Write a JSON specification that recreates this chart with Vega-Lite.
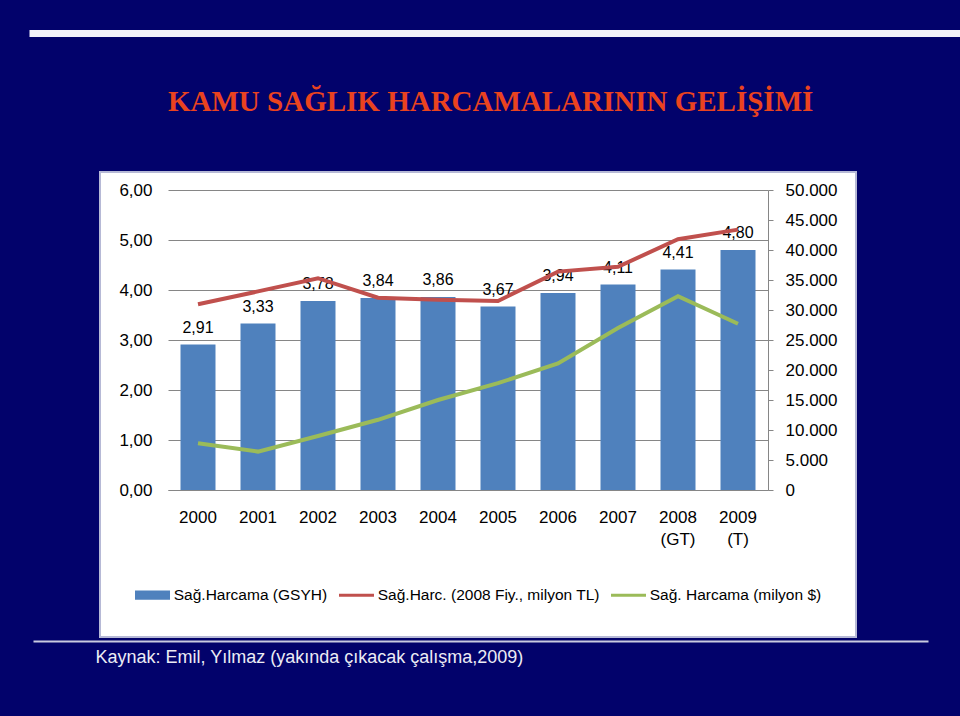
{
  "$schema": "https://vega.github.io/schema/vega-lite/v6.json",
  "autosize": {"type": "none"},
  "width": 756,
  "height": 465,
  "padding": {"left": 100, "top": 172, "right": 104, "bottom": 79},
  "background": "#02026B",
  "title": {
    "text": "KAMU SAĞLIK HARCAMALARININ GELİŞİMİ",
    "anchor": "start",
    "frame": "group",
    "font": "Liberation Serif",
    "fontSize": 29,
    "fontWeight": "bold",
    "color": "#EA431F",
    "baseline": "alphabetic",
    "dx": 68,
    "offset": -107
  },
  "data": {
    "values": [
      {"year": "2000", "gsyh": 2.91, "tl": 30950, "usd": 7800},
      {"year": "2001", "gsyh": 3.33, "tl": 33100, "usd": 6400},
      {"year": "2002", "gsyh": 3.78, "tl": 35300, "usd": 9000},
      {"year": "2003", "gsyh": 3.84, "tl": 32050, "usd": 11700},
      {"year": "2004", "gsyh": 3.86, "tl": 31700, "usd": 15000},
      {"year": "2005", "gsyh": 3.67, "tl": 31500, "usd": 17800},
      {"year": "2006", "gsyh": 3.94, "tl": 36400, "usd": 21100},
      {"year": "2007", "gsyh": 4.11, "tl": 37200, "usd": 27000},
      {"year": "2008 (GT)", "gsyh": 4.41, "tl": 41800, "usd": 32300},
      {"year": "2009 (T)", "gsyh": 4.80, "tl": 43400, "usd": 27700}
    ]
  },
  "layer": [
    {
      "layer": [
        {
          "mark": {"type": "bar", "color": "#4F81BD"},
          "encoding": {
            "x": {
              "field": "year", "type": "nominal", "sort": null,
              "scale": {"range": [68, 668], "paddingInner": 0.41667, "paddingOuter": 0.20833},
              "axis": {
                "orient": "bottom", "offset": -147, "domain": true, "domainColor": "#868686", "domainWidth": 1,
                "ticks": false, "labelPadding": 19, "labelFontSize": 17, "labelFont": "Liberation Sans",
                "labelColor": "#000000", "labelAngle": 0, "labelLineHeight": 22,
                "labelExpr": "split(datum.value, ' ')", "title": null, "grid": false
              }
            },
            "y": {
              "field": "gsyh", "type": "quantitative",
              "scale": {"domain": [0, 6], "range": [318, 18], "nice": false, "zero": false},
              "axis": {
                "orient": "left", "offset": -68, "domain": false, "ticks": false, "labelPadding": 16,
                "values": [0, 1, 2, 3, 4, 5, 6], "grid": true, "gridColor": "#868686", "gridWidth": 1,
                "labelExpr": "replace(format(datum.value, '.2f'), '.', ',')",
                "labelFontSize": 17, "labelFont": "Liberation Sans", "labelColor": "#000000", "title": null
              }
            },
            "color": {
              "datum": "Sağ.Harcama (GSYH)",
              "scale": {
                "domain": ["Sağ.Harcama (GSYH)", "Sağ.Harc. (2008 Fiy., milyon TL)", "Sağ. Harcama (milyon $)"],
                "range": ["#4F81BD", "#C0504D", "#9BBB59"]
              },
              "legend": {
                "orient": "none", "legendX": 35, "legendY": 415, "direction": "horizontal",
                "title": null, "symbolSize": 1225, "labelFontSize": 15.5, "labelFont": "Liberation Sans",
                "labelColor": "#000000", "labelOffset": 13.5, "symbolOffset": 9.75, "columnPadding": 5, "padding": 0, "labelLimit": 400,
                "encode": {
                  "symbols": {
                    "update": {
                      "shape": {"signal": "datum.value === 'Sağ.Harcama (GSYH)' ? 'M-1,-0.27H1V0.27H-1Z' : 'M-1,0H1'"},
                      "size": {"value": 1225},
                      "fill": {"signal": "datum.value === 'Sağ.Harcama (GSYH)' ? '#4F81BD' : 'transparent'"},
                      "stroke": {"signal": "datum.value === 'Sağ.Harcama (GSYH)' ? 'transparent' : (datum.value === 'Sağ. Harcama (milyon $)' ? '#9BBB59' : '#C0504D')"},
                      "strokeWidth": {"signal": "datum.value === 'Sağ.Harcama (GSYH)' ? 0 : 3"},
                      "opacity": {"value": 1}
                    }
                  }
                }
              }
            }
          }
        },
        {
          "transform": [{"calculate": "replace(format(datum.gsyh, '.2f'), '.', ',')", "as": "label"}],
          "mark": {"type": "text", "dy": -17, "fontSize": 16, "font": "Liberation Sans", "color": "#000000", "baseline": "middle"},
          "encoding": {
            "x": {"field": "year", "type": "nominal", "sort": null},
            "y": {"field": "gsyh", "type": "quantitative"},
            "text": {"field": "label", "type": "nominal"}
          }
        }
      ]
    },
    {
      "layer": [
        {
          "mark": {"type": "line", "strokeWidth": 4},
          "encoding": {
            "x": {"field": "year", "type": "nominal", "sort": null, "scale": {"type": "point", "range": [68, 668], "padding": 0.5}, "axis": null},
            "y": {
              "field": "tl", "type": "quantitative",
              "scale": {"domain": [0, 50000], "range": [318, 18], "nice": false, "zero": false},
              "axis": {
                "orient": "right", "offset": -88, "domain": true, "domainColor": "#868686", "domainWidth": 1,
                "ticks": true, "tickColor": "#868686", "tickSize": 5, "labelPadding": 12,
                "values": [0, 5000, 10000, 15000, 20000, 25000, 30000, 35000, 40000, 45000, 50000],
                "grid": false, "labelExpr": "replace(format(datum.value, ','), ',', '.')",
                "labelFontSize": 17, "labelFont": "Liberation Sans", "labelColor": "#000000", "title": null
              }
            },
            "color": {"datum": "Sağ.Harc. (2008 Fiy., milyon TL)"}
          }
        },
        {
          "mark": {"type": "line", "strokeWidth": 4},
          "encoding": {
            "x": {"field": "year", "type": "nominal", "sort": null},
            "y": {"field": "usd", "type": "quantitative"},
            "color": {"datum": "Sağ. Harcama (milyon $)"}
          }
        }
      ]
    },
    {
      "mark": {"type": "point", "opacity": 0},
      "encoding": {
        "x": {
          "field": "year", "type": "nominal", "sort": null,
          "scale": {"type": "point", "range": [-67, 828]},
          "axis": {
            "orient": "bottom", "offset": 4, "domain": true, "domainColor": "#C9CBE0", "domainWidth": 2,
            "labels": false, "ticks": false, "grid": false,
            "title": "Kaynak: Emil, Yılmaz (yakında çıkacak çalışma,2009)",
            "titleX": -5, "titleY": 16, "titleAnchor": "start", "titleAlign": "left", "titleBaseline": "middle",
            "titleFont": "Liberation Sans", "titleFontSize": 18, "titleFontWeight": "normal", "titleColor": "#ECECF4"
          }
        }
      }
    },
    {
      "mark": {"type": "point", "opacity": 0},
      "encoding": {
        "x": {
          "field": "year", "type": "nominal", "sort": null,
          "scale": {"type": "point", "range": [-71, 860]},
          "axis": {
            "orient": "top", "offset": 139, "domain": true, "domainColor": "#F2F2FA", "domainWidth": 7,
            "labels": false, "ticks": false, "grid": false, "title": null
          }
        }
      }
    }
  ],
  "resolve": {
    "scale": {"x": "independent", "y": "independent"},
    "axis": {"x": "independent", "y": "independent"}
  },
  "config": {
    "font": "Liberation Sans",
    "view": {"fill": "#FFFFFF", "stroke": "#B6B9D6", "strokeWidth": 2},
    "legend": {"symbolSize": 1225}
  }
}
